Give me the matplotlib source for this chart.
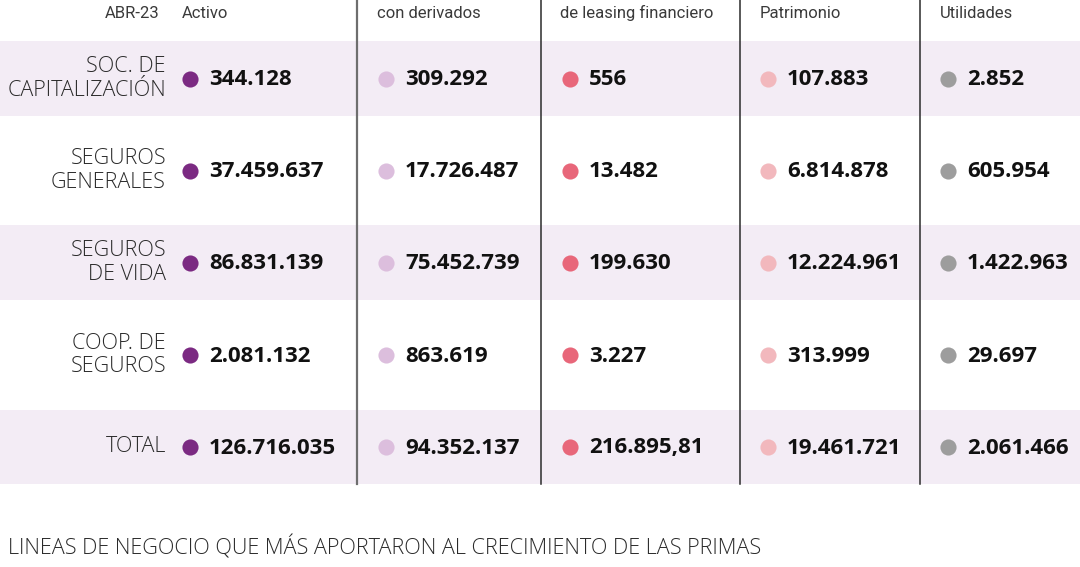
import matplotlib
matplotlib.use("Agg")
import matplotlib.pyplot as plt

# data (ABR-23)
categories = ["SOC. DE\nCAPITALIZACIÓN", "SEGUROS\nGENERALES", "SEGUROS\nDE VIDA",
              "COOP. DE\nSEGUROS", "TOTAL"]
headers = ["Activo", "con derivados", "de leasing financiero", "Patrimonio", "Utilidades"]
activo = [344128, 37459637, 86831139, 2081132, 126716035]
derivados = [309292, 17726487, 75452739, 863619, 94352137]
leasing = [556, 13482, 199630, 3227, 216895.81]
patrimonio = [107883, 6814878, 12224961, 313999, 19461721]
utilidades = [2852, 605954, 1422963, 29697, 2061466]
series_colors = ["#7b2a82", "#dcbedd", "#e8677a", "#f2b8bd", "#9d9d9d"]

W, H = 1080, 567
fig = plt.figure(figsize=(W / 100, H / 100), dpi=100)
ax = fig.add_axes([0, 0, 1, 1])
ax.set_xlim(0, W)
ax.set_ylim(H, 0)
ax.axis("off")

narrow = ["Roboto", "DejaVu Sans"]
light = ["Open Sans", "DejaVu Sans"]


def fmt(v):
    if float(v).is_integer():
        return f"{int(v):,}".replace(",", ".")
    s = f"{v:,.2f}"
    return s.replace(",", "X").replace(".", ",").replace("X", ".")


# row layout
row_edges = [41, 116, 225, 300, 410, 484]
row_centers = [(row_edges[i] + row_edges[i + 1]) / 2 for i in range(5)]
shaded = [0, 2, 4]
for i in shaded:
    ax.axhspan(row_edges[i], row_edges[i + 1], color="#f3ecf5", lw=0, zorder=0)

# column separators
sep_x = [357, 541, 740, 920]
for j, x in enumerate(sep_x):
    ax.plot([x, x], [0, row_edges[-1]], color="#6e6e6e" if j == 0 else "#2b2b2b",
            lw=1.6 if j == 0 else 1.1, zorder=1)

# headers
ax.text(160, 13, "ABR-23", ha="right", va="center", fontsize=12,
        family=narrow, color="#3a3a3a")
head_x = [182, 377, 560, 760, 940]
for x, h in zip(head_x, headers):
    ax.text(x, 13, h, ha="left", va="center", fontsize=12, family=narrow,
            color="#3a3a3a")

# row labels
for y, c in zip(row_centers, categories):
    ax.text(166, y, c, ha="right", va="center", fontsize=15.5, family=light,
            fontweight="light", color="#2a2a2a", linespacing=1.18)

# dots + values
dot_x = [190, 386, 570, 768, 948]
cols = [activo, derivados, leasing, patrimonio, utilidades]
for x, vals, col in zip(dot_x, cols, series_colors):
    ax.scatter([x] * len(vals), row_centers, s=135, color=col, lw=0, zorder=3)
    for y, v in zip(row_centers, vals):
        ax.text(x + 19, y + 1, fmt(v), ha="left", va="center", fontsize=16,
                family=light, fontweight="bold", color="#111111")

ax.text(8, 547, "LINEAS DE NEGOCIO QUE MÁS APORTARON AL CRECIMIENTO DE LAS PRIMAS",
        ha="left", va="center", fontsize=15.6, family=light, fontweight="light",
        color="#2a2a2a")

fig.savefig("out.png", dpi=100)
